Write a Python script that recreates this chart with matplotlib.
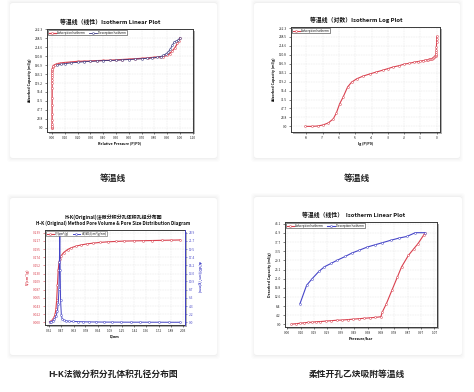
import numpy as np
import matplotlib
matplotlib.use("Agg")
import matplotlib.pyplot as plt
from matplotlib.patches import FancyBboxPatch, Rectangle

plt.rcParams['font.family'] = ['Noto Sans CJK SC', 'DejaVu Sans']

# ---------------- data ----------------
# Panels 1/2: isotherm (relative pressure P/P0, adsorbed amount)
ads_p = [8.7e-9, 2.2e-8, 5e-8, 1e-7, 2.2e-7, 4.5e-7, 7e-7, 1.1e-6, 1.8e-6, 3.4e-6,
         6e-6, 1.25e-5, 3e-5, 8e-5, 2e-4, 5e-4, 1e-3, 2e-3, 5e-3, 0.01, 0.02, 0.04,
         0.07, 0.1, 0.15, 0.2, 0.25, 0.3, 0.35, 0.4, 0.45, 0.5, 0.55, 0.6, 0.65,
         0.7, 0.75, 0.8, 0.84, 0.87, 0.9, 0.92, 0.94, 0.96, 0.98, 0.99, 1.0]
ads_q = [0, 0, 1, 3.5, 9, 20, 36, 60, 78, 105, 118, 127, 134, 140, 145, 150, 154,
         158, 162, 166, 168, 171, 173, 174, 175.5, 177, 177.5, 178, 179, 179.5, 180,
         181, 182, 183, 184, 185, 186.5, 188, 189, 190, 193, 198, 205, 213, 225, 232, 240]
des_p = [1.0, 0.985, 0.97, 0.955, 0.94, 0.925, 0.91, 0.89, 0.87, 0.85, 0.82, 0.78,
         0.74, 0.70, 0.65, 0.60, 0.55, 0.50, 0.45, 0.40, 0.35, 0.30, 0.25, 0.20,
         0.15, 0.10, 0.07, 0.04]
des_q = [240, 234, 231, 229, 220, 210, 203, 197, 193, 190, 188, 186, 185, 184,
         183, 182, 181, 180, 179.5, 179, 178, 177, 176, 174.5, 173, 171, 169, 167]
iso_yticks = [0.0, 23.8, 47.7, 71.5, 95.4, 119.2, 143.1, 166.9, 190.8, 214.6, 238.5, 262.3]
lin_xticks = [0.00, 0.10, 0.20, 0.30, 0.40, 0.50, 0.60, 0.70, 0.80, 0.90, 1.00, 1.10]
log_xticks = [-8, -7, -6, -5, -4, -3, -2, -1, 0]

# Panel 3: H-K pore distribution
hk_d = [0.32, 0.34, 0.36, 0.38, 0.39, 0.40, 0.41, 0.42, 0.43, 0.44, 0.45, 0.47,
        0.50, 0.55, 0.60, 0.66, 0.72, 0.80, 0.88, 0.97, 1.07, 1.17, 1.28, 1.40,
        1.52, 1.64, 1.76, 1.88, 2.00]
hk_v = [0.002, 0.004, 0.008, 0.015, 0.022, 0.035, 0.06, 0.10, 0.14, 0.160, 0.168,
        0.178, 0.186, 0.194, 0.199, 0.203, 0.206, 0.209, 0.211, 0.213, 0.2145,
        0.2155, 0.2165, 0.217, 0.2175, 0.218, 0.2185, 0.219, 0.2195]
hk_d2 = [0.32, 0.34, 0.36, 0.38, 0.40, 0.42, 0.43, 0.44, 0.445, 0.45, 0.455, 0.46,
         0.47, 0.48, 0.50, 0.53, 0.57, 0.62, 0.68, 0.75, 0.83, 0.92, 1.02, 1.12,
         1.24, 1.36, 1.48, 1.60, 1.72, 1.85, 2.00]
hk_dv = [0.1, 0.2, 0.4, 0.8, 1.6, 3.0, 5.0, 9.0, 16.0, 23.5, 14.0, 6.0, 2.0, 1.0,
         0.6, 0.4, 0.3, 0.25, 0.2, 0.15, 0.12, 0.1, 0.08, 0.07, 0.06, 0.05, 0.05,
         0.04, 0.04, 0.03, 0.03]
hk_xticks = [0.31, 0.47, 0.63, 0.78, 0.94, 1.09, 1.25, 1.41, 1.56, 1.72, 1.88, 2.03]
hk_vticks = [0.000, 0.022, 0.043, 0.065, 0.087, 0.109, 0.130, 0.152, 0.174, 0.195, 0.217, 0.239]
hk_dvticks = [0.0, 2.2, 4.3, 6.5, 8.7, 10.9, 13.0, 15.2, 17.4, 19.5, 21.7, 23.9]

# Panel 4: acetylene isotherm (pressure bar, amount)
c2_ads_p = [0.03, 0.06, 0.09, 0.12, 0.15, 0.18, 0.21, 0.24, 0.28, 0.32, 0.36, 0.40,
            0.44, 0.48, 0.52, 0.56, 0.60, 0.64, 0.68, 0.69, 0.72, 0.76, 0.80, 0.83,
            0.88, 0.92, 0.95, 0.99, 1.0]
c2_ads_q = [0.1, 0.3, 0.5, 0.7, 0.9, 1.0, 1.2, 1.3, 1.5, 1.7, 1.9, 2.0, 2.2, 2.4,
            2.6, 2.8, 3.0, 3.2, 3.5, 5.6, 9.5, 15.6, 21.7, 26.3, 31.6, 34.7, 37.0, 40.8, 42.0]
c2_des_p = [1.0, 0.93, 0.87, 0.81, 0.75, 0.69, 0.64, 0.58, 0.52, 0.47, 0.42, 0.36,
            0.32, 0.27, 0.23, 0.18, 0.14, 0.092]
c2_des_q = [42.0, 42.0, 40.3, 39.5, 38.5, 37.4, 36.5, 35.4, 33.9, 32.7, 31.1, 29.3,
            28.0, 26.4, 24.3, 20.9, 17.9, 9.5]
c2_xticks = [0.00, 0.10, 0.19, 0.29, 0.39, 0.49, 0.58, 0.68, 0.78, 0.87, 0.97, 1.07]
c2_yticks = [0.0, 4.2, 8.4, 12.6, 16.8, 21.0, 25.1, 29.3, 33.5, 37.7, 41.9, 46.1]

RED = '#d9404e'
BLUE = '#4545c8'
NAVY = '#34347e'

W, H = 474, 392
fig = plt.figure(figsize=(W / 100, H / 100), dpi=100)
fig.patch.set_facecolor('white')


def fx(x):
    return x / W


def fy(y):
    return 1 - y / H


def card(x0, y0, x1, y1):
    for i, a in enumerate([0.010, 0.012, 0.015, 0.02]):
        g = 4 - i
        fig.add_artist(FancyBboxPatch((fx(x0 - g + 1), fy(y1 + g)),
                                      (x1 - x0 + 2 * g - 2) / W, (y1 - y0 + 2 * g) / H,
                                      boxstyle="round,pad=0,rounding_size=0.006",
                                      transform=fig.transFigure, facecolor='black',
                                      edgecolor='none', alpha=a, zorder=-3))
    fig.add_artist(FancyBboxPatch((fx(x0), fy(y1)), (x1 - x0) / W, (y1 - y0) / H,
                                  boxstyle="round,pad=0,rounding_size=0.006",
                                  transform=fig.transFigure, facecolor='white',
                                  edgecolor='none', zorder=-2))


def make_ax(x0, y0, x1, y1):
    # light frame shadow
    fig.add_artist(Rectangle((fx(x0 + 1.5), fy(y1 + 1.5)), (x1 - x0) / W, (y1 - y0) / H,
                             transform=fig.transFigure, facecolor='#b0b0b0',
                             edgecolor='none', zorder=-1))
    ax = fig.add_axes([fx(x0), fy(y1), (x1 - x0) / W, (y1 - y0) / H])
    ax.set_zorder(2)
    ax.set_facecolor('white')
    for s in ax.spines.values():
        s.set_linewidth(0.7)
        s.set_color('#3a3a3a')
    ax.grid(True, color='#d8d8d8', lw=0.3, ls=(0, (2, 2)))
    ax.set_axisbelow(True)
    ax.tick_params(length=1.5, width=0.4, pad=1.5, labelsize=2.3, colors='#222222')
    return ax


def legend(ax, **kw):
    lg = ax.legend(loc='upper left', ncol=2, fontsize=2.1, frameon=True, fancybox=True,
                   handlelength=2.5, borderpad=0.25, columnspacing=1.5,
                   handletextpad=0.5, borderaxespad=0.3, **kw)
    fr = lg.get_frame()
    fr.set_edgecolor('#333333')
    fr.set_linewidth(0.4)
    fr.set_alpha(1)
    return lg


mk = dict(marker='o', ms=1.4, mfc='white', mew=0.35)

# ---- cards ----
card(10, 3, 217, 158)
card(254, 3, 460, 158)
card(10, 198, 217, 355)
card(254, 197, 462, 355)

# ---- Panel 1: linear isotherm ----
ax1 = make_ax(47, 29, 193, 132)
ax1.plot(ads_p, ads_q, color=RED, lw=0.9, mec=RED, label='Adsorption Isotherm', **mk)
ax1.plot(des_p, des_q, color=NAVY, lw=0.6, mec=NAVY, label='Desorption Isotherm', **mk)
ax1.set_xlim(-0.04, 1.102)
ax1.set_ylim(-11.6, 263.5)
ax1.set_xticks(lin_xticks)
ax1.set_xticklabels([f'{v:.2f}' for v in lin_xticks])
ax1.set_yticks(iso_yticks)
ax1.set_yticklabels([f'{v:.1f}' for v in iso_yticks])
ax1.set_xlabel('Relative Pressure (P/P0)', fontsize=2.6, fontweight='bold', labelpad=1)
ax1.set_ylabel('Adsorbed Capacity (ml/g)', fontsize=2.6, fontweight='bold', labelpad=2)
legend(ax1)
fig.text(fx(110), fy(24), '等温线（线性）Isotherm Linear Plot', ha='center', va='baseline',
         fontsize=4.2, fontweight='bold', color='#111111')

# ---- Panel 2: log isotherm ----
ax2 = make_ax(291, 27, 440, 132)
ax2.plot(np.log10(ads_p), ads_q, color=RED, lw=0.8, mec=RED, label='Adsorption Isotherm', **mk)
ax2.set_xlim(-8.94, 0.2)
ax2.set_ylim(-15, 265)
ax2.set_xticks(log_xticks)
ax2.set_xticklabels([str(v) for v in log_xticks])
ax2.set_yticks(iso_yticks)
ax2.set_yticklabels([f'{v:.1f}' for v in iso_yticks])
ax2.set_xlabel('lg (P/P0)', fontsize=2.6, fontweight='bold', labelpad=1)
ax2.set_ylabel('Adsorbed Capacity (ml/g)', fontsize=2.6, fontweight='bold', labelpad=2)
legend(ax2)
fig.text(fx(356), fy(22), '等温线（对数）Isotherm Log Plot', ha='center', va='baseline',
         fontsize=4.2, fontweight='bold', color='#111111')

# ---- Panel 3: H-K ----
ax3 = make_ax(45, 230, 185, 325)
l1, = ax3.plot(hk_d, hk_v, color=RED, lw=0.8, mec=RED, label='V/(cm³/g)', **mk)
ax3.set_xlim(0.26, 2.06)
ax3.set_ylim(-0.007, 0.246)
ax3.set_xticks(hk_xticks)
ax3.set_xticklabels([f'{v:.2f}' for v in hk_xticks])
ax3.set_yticks(hk_vticks)
ax3.set_yticklabels([f'{v:.3f}' for v in hk_vticks])
ax3.tick_params(axis='y', labelcolor=RED, colors=RED)
ax3.set_xlabel('D/nm', fontsize=2.6, fontweight='bold', labelpad=1)
ax3.set_ylabel('V/(cm³/g)', fontsize=2.6, fontweight='bold', color=RED, labelpad=2)
ax3b = ax3.twinx()
ax3b.set_zorder(3)
ax3b.patch.set_visible(False)
l2, = ax3b.plot(hk_d2, hk_dv, color=BLUE, lw=0.7, mec=BLUE, label='dV/dD/(cm³/g/nm)', **mk)
ax3b.set_ylim(-0.7, 24.6)
ax3b.set_yticks(hk_dvticks)
ax3b.set_yticklabels([f'{v:.1f}' for v in hk_dvticks])
ax3b.tick_params(length=1.5, width=0.4, pad=1.5, labelsize=2.3, colors=BLUE)
ax3b.spines['right'].set_color(BLUE)
for s in ['left', 'top', 'bottom']:
    ax3b.spines[s].set_visible(False)
ax3b.spines['right'].set_linewidth(0.7)
ax3b.set_ylabel('dV/dD/(cm³/g/nm)', fontsize=2.6, fontweight='bold', color=BLUE,
                rotation=270, labelpad=4)
lg3 = ax3b.legend([l1, l2], ['V/(cm³/g)', 'dV/dD/(cm³/g/nm)'], loc='upper left', ncol=2,
                  fontsize=2.1, frameon=True, fancybox=True, handlelength=2.5,
                  borderpad=0.25, columnspacing=1.5, handletextpad=0.5, borderaxespad=0.3)
lg3.get_frame().set_edgecolor('#333333')
lg3.get_frame().set_linewidth(0.4)
fig.text(fx(113), fy(219), 'H-K(Original)法微分积分孔体积孔径分布图', ha='center',
         va='baseline', fontsize=3.6, fontweight='bold', color='#111111')
fig.text(fx(113), fy(225), 'H-K (Original) Method Pore Volume & Pore Size Distribution Diagram',
         ha='center', va='baseline', fontsize=3.3, fontweight='bold', color='#111111')

# ---- Panel 4: acetylene ----
ax4 = make_ax(285, 222, 437, 327)
ax4.plot(c2_ads_p, c2_ads_q, color=RED, lw=0.8, mec=RED, label='Adsorption Isotherm', **mk)
ax4.plot(c2_des_p, c2_des_q, color=BLUE, lw=0.8, mec=BLUE, label='Desorption Isotherm', **mk)
ax4.set_xlim(-0.017, 1.088)
ax4.set_ylim(-1.2, 46.9)
ax4.set_xticks([i * 0.0972 for i in range(len(c2_xticks))])
ax4.set_xticklabels([f'{v:.2f}' for v in c2_xticks])
ax4.set_yticks([i * 4.19 for i in range(len(c2_yticks))])
ax4.set_yticklabels([f'{v:.1f}' for v in c2_yticks])
ax4.set_xlabel('Pressure/bar', fontsize=2.8, fontweight='bold', labelpad=1)
ax4.set_ylabel('Desorbed Capacity (ml/g)', fontsize=2.6, fontweight='bold', labelpad=2)
legend(ax4)
fig.text(fx(354), fy(217), '等温线（线性）  Isotherm Linear Plot', ha='center', va='baseline',
         fontsize=4.2, fontweight='bold', color='#111111')

# ---- captions ----
cap = dict(ha='center', va='center', fontsize=6.3, fontweight='bold', color='#222222')
fig.text(fx(113), fy(178), '等温线', **cap)
fig.text(fx(357), fy(178), '等温线', **cap)
fig.text(fx(113), fy(374), 'H-K法微分积分孔体积孔径分布图', **cap)
fig.text(fx(357), fy(374), '柔性开孔乙炔吸附等温线', **cap)

fig.savefig('out.png', dpi=100, facecolor='white')
